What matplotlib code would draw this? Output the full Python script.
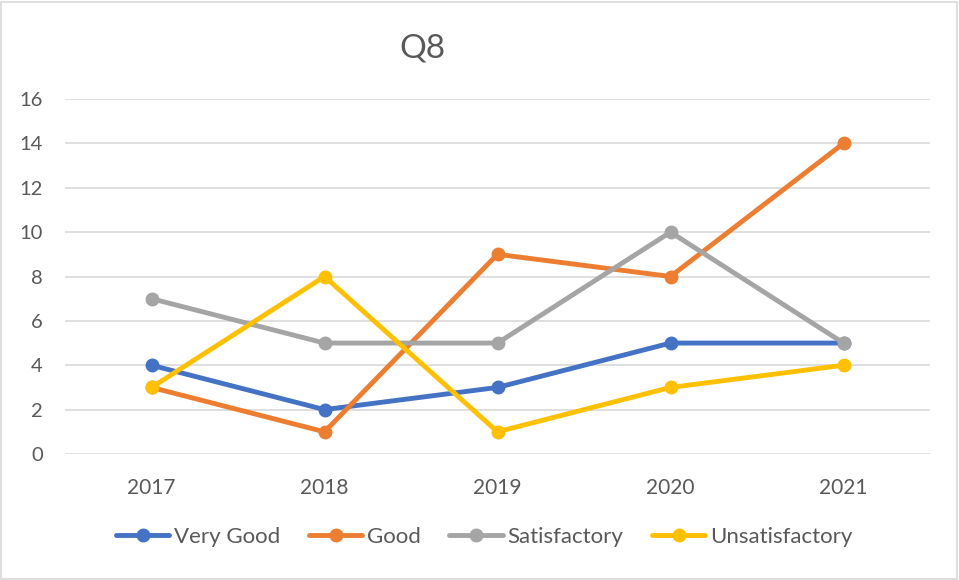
import matplotlib
matplotlib.use("Agg")
import matplotlib.pyplot as plt
from matplotlib.patches import Rectangle

years = ["2017", "2018", "2019", "2020", "2021"]
very_good = [4, 2, 3, 5, 5]
good = [3, 1, 9, 8, 14]
satisfactory = [7, 5, 5, 10, 5]
unsatisfactory = [3, 8, 1, 3, 4]

series = [
    ("Very Good", very_good, "#4472C4"),
    ("Good", good, "#ED7D31"),
    ("Satisfactory", satisfactory, "#A5A5A5"),
    ("Unsatisfactory", unsatisfactory, "#FFC000"),
]

plt.rcParams["font.family"] = ["Lato", "DejaVu Sans"]
text_color = "#595959"

W, H = 959, 580
fig = plt.figure(figsize=(W / 100, H / 100), dpi=100)
fig.patch.set_facecolor("white")
fig.patches.append(Rectangle((0.5 / W, 1.5 / H), (W - 3) / W, (H - 3) / H,
                             transform=fig.transFigure, fill=False,
                             edgecolor="#D9D9D9", linewidth=1.2))

ax = fig.add_axes([65 / W, 126 / H, (930 - 65) / W, (454 - 99) / H])
x = list(range(len(years)))
for name, vals, col in series:
    ax.plot(x, vals, color=col, linewidth=3.5, marker="o", markersize=9,
            label=name, solid_capstyle="round", zorder=3)

ax.set_xlim(-0.5, len(years) - 0.5)
ax.set_ylim(0, 16)
ax.set_yticks(range(0, 17, 2))
ax.set_xticks(x)
ax.set_xticklabels(years)
ax.grid(axis="y", color="#D9D9D9", linewidth=1.2, zorder=0)
for s in ax.spines.values():
    s.set_visible(False)
ax.tick_params(axis="y", length=0, pad=16, labelsize=14.5, labelcolor=text_color)
ax.tick_params(axis="x", length=0, pad=17, labelsize=15, labelcolor=text_color)

fig.text(422 / W, 1 - 48 / H, "Q8", ha="center", va="center",
         fontsize=24, color=text_color)

fig.legend(loc="center", bbox_to_anchor=(484 / W, 43 / H), ncol=4,
           frameon=False, fontsize=16, labelcolor=text_color,
           handlelength=2.4, handletextpad=0.2, columnspacing=1.3)

fig.savefig("out.png", dpi=100)
